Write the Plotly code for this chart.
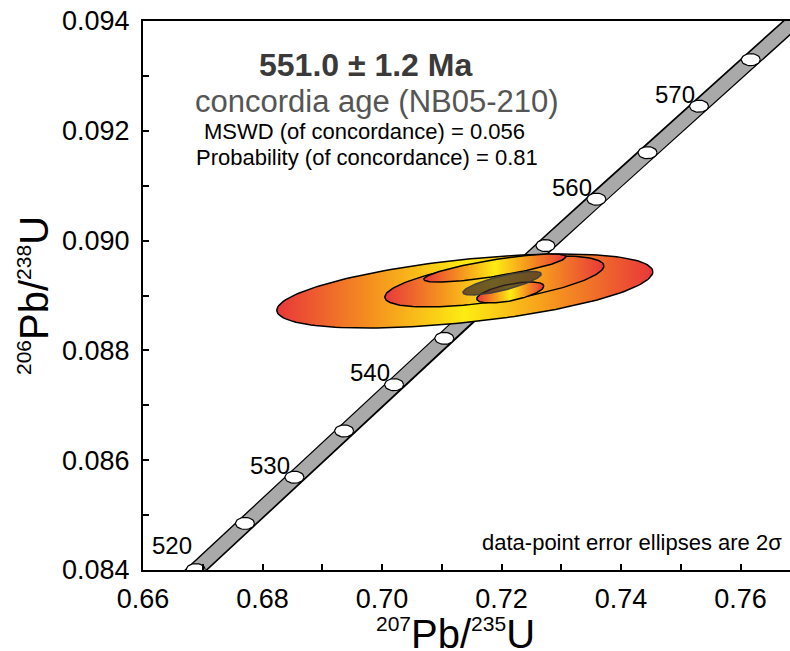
import numpy as np
import plotly.graph_objects as go

# ---------------- data ----------------
# concordia ages (Ma) and their Wetherill ratios
conc_age = [515, 520, 525, 530, 535, 540, 545, 550, 555, 560, 565, 570, 575, 580, 585]
conc_x = [0.660631, 0.668829, 0.677066, 0.685346, 0.693665, 0.702026, 0.710428, 0.718871,
          0.727355, 0.735882, 0.744450, 0.753062, 0.761717, 0.770412, 0.779153]
conc_y = [0.083167, 0.084007, 0.084849, 0.085690, 0.086533, 0.087376, 0.088220, 0.089064,
          0.089909, 0.090755, 0.091601, 0.092448, 0.093296, 0.094144, 0.094993]
labelled_ages = [520, 530, 540, 560, 570]

# data-point error ellipses (2 sigma)
ell_cx = [0.71386, 0.71880, 0.71888, 0.72147]
ell_cy = [0.089082, 0.089255, 0.089501, 0.089055]
ell_sx = [0.03146, 0.01833, 0.01188, 0.00561]
ell_sy = [0.000674, 0.000464, 0.000255, 0.000191]
ell_rho = [0.52, 0.61, 0.80, 0.60]

# concordia age ellipse
age_cx, age_cy, age_sx, age_sy, age_rho = 0.72010, 0.089224, 0.00656, 0.000215, 0.78

x_ticks = [0.66, 0.68, 0.70, 0.72, 0.74, 0.76]
y_ticks = [0.084, 0.086, 0.088, 0.090, 0.092, 0.094]

# ---------------- geometry helpers ----------------
def ellipse(cx, cy, sx, sy, rho, n=160):
    t = np.linspace(0, 2 * np.pi, n)
    x = cx + sx * np.cos(t)
    y = cy + sy * (rho * np.cos(t) + np.sqrt(1 - rho ** 2) * np.sin(t))
    return x, y

W, H = 790, 651
ML, MR, MT, MB = 143, 0, 21, 81
PW, PH = W - ML - MR, H - MT - MB
XPX = 5975.0   # pixels per x unit
YPX = 54900.0  # pixels per y unit
x_range = [0.66, 0.66 + PW / XPX]
y_range = [0.084, 0.084 + PH / YPX]

FONT = "Liberation Sans, Arial, sans-serif"

fig = go.Figure()

# concordia band
fig.add_trace(go.Scatter(x=conc_x, y=conc_y, mode="lines",
                         line=dict(color="black", width=16), hoverinfo="skip", showlegend=False))
fig.add_trace(go.Scatter(x=conc_x, y=conc_y, mode="lines",
                         line=dict(color="#a9a9a9", width=13), hoverinfo="skip", showlegend=False))

# age markers (white ellipses)
mx, my = [], []
for cx, cy in zip(conc_x, conc_y):
    ex, ey = ellipse(cx, cy, 9.5 / XPX, 6.0 / YPX, 0.0, 40)
    mx += list(ex) + [None]
    my += list(ey) + [None]
fig.add_trace(go.Scatter(x=mx, y=my, mode="lines", fill="toself", fillcolor="white",
                         line=dict(color="black", width=1.2), hoverinfo="skip", showlegend=False))

# data-point error ellipses
grad = [[0, "#e8383a"], [0.25, "#f5901f"], [0.5, "#fdec12"], [0.75, "#f5901f"], [1, "#e8383a"]]
for cx, cy, sx, sy, r in zip(ell_cx, ell_cy, ell_sx, ell_sy, ell_rho):
    ex, ey = ellipse(cx, cy, sx, sy, r)
    fig.add_trace(go.Scatter(x=ex, y=ey, mode="lines", fill="toself",
                             fillgradient=dict(type="horizontal", colorscale=grad),
                             line=dict(color="black", width=1.5), hoverinfo="skip", showlegend=False))

# concordia age ellipse
ex, ey = ellipse(age_cx, age_cy, age_sx, age_sy, age_rho)
fig.add_trace(go.Scatter(x=ex, y=ey, mode="lines", fill="toself", fillcolor="rgba(55,42,40,0.72)",
                         line=dict(color="rgba(60,60,60,0.9)", width=1.5), hoverinfo="skip", showlegend=False))

# age labels
for a in labelled_ages:
    i = conc_age.index(a)
    dy = 24 if a == 520 else 12
    fig.add_annotation(x=conc_x[i], y=conc_y[i], text=str(a), showarrow=False,
                       xshift=-24, yshift=dy, font=dict(family=FONT, size=24, color="black"))

def px(xp, yp):
    return (xp - ML) / PW, (H - MB - yp) / PH

ann = [
    ("<b>551.0 ± 1.2 Ma</b>", 365, 65, 32, "#3a3a3a"),
    ("concordia age (NB05-210)", 377, 101, 31, "#555555"),
    ("MSWD (of concordance) = 0.056", 364, 131, 22, "black"),
    ("Probability (of concordance) = 0.81", 367, 157, 22, "black"),
]
for txt, xp, yp, sz, col in ann:
    ax, ay = px(xp, yp)
    fig.add_annotation(x=ax, y=ay, xref="paper", yref="paper", text=txt, showarrow=False,
                       xanchor="center", yanchor="middle", font=dict(family=FONT, size=sz, color=col))

ax, ay = px(784, 542)
fig.add_annotation(x=ax, y=ay, xref="paper", yref="paper", text="data-point error ellipses are 2σ",
                   showarrow=False, xanchor="right", yanchor="middle",
                   font=dict(family=FONT, size=22, color="black"))

# axis titles
ax, ay = px(455, 634)
fig.add_annotation(x=ax, y=ay, xref="paper", yref="paper",
                   text="<sup><span style='font-size:21px'>207</span></sup>Pb/<sup><span style='font-size:21px'>235</span></sup>U",
                   showarrow=False, xanchor="center", yanchor="middle",
                   font=dict(family=FONT, size=40, color="black"))
ax, ay = px(34, 296)
fig.add_annotation(x=ax, y=ay, xref="paper", yref="paper",
                   text="<sup><span style='font-size:21px'>206</span></sup>Pb/<sup><span style='font-size:21px'>238</span></sup>U",
                   showarrow=False, xanchor="center", yanchor="middle", textangle=-90,
                   font=dict(family=FONT, size=40, color="black"))

fig.update_layout(
    width=W, height=H, margin=dict(l=ML, r=MR, t=MT, b=MB, pad=0),
    paper_bgcolor="white", plot_bgcolor="white", showlegend=False,
    font=dict(family=FONT, color="black"),
)
fig.update_xaxes(range=x_range, tickvals=x_ticks, ticktext=[f"{v:.2f}" for v in x_ticks],
                 ticks="inside", ticklen=6, tickwidth=1.5, tickcolor="black",
                 minor=dict(dtick=0.01, ticks="inside", ticklen=6, tickwidth=1.5, tickcolor="black"),
                 showline=True, linecolor="black", linewidth=2, mirror=True,
                 showgrid=False, zeroline=False, tickfont=dict(size=27), ticklabelstandoff=4)
fig.update_yaxes(range=y_range, tickvals=y_ticks, ticktext=[f"{v:.3f}" for v in y_ticks],
                 ticks="inside", ticklen=6, tickwidth=1.5, tickcolor="black",
                 minor=dict(dtick=0.001, ticks="inside", ticklen=6, tickwidth=1.5, tickcolor="black"),
                 showline=True, linecolor="black", linewidth=2,
                 showgrid=False, zeroline=False, tickfont=dict(size=27), ticklabelstandoff=6)

fig.write_html("out.html")
